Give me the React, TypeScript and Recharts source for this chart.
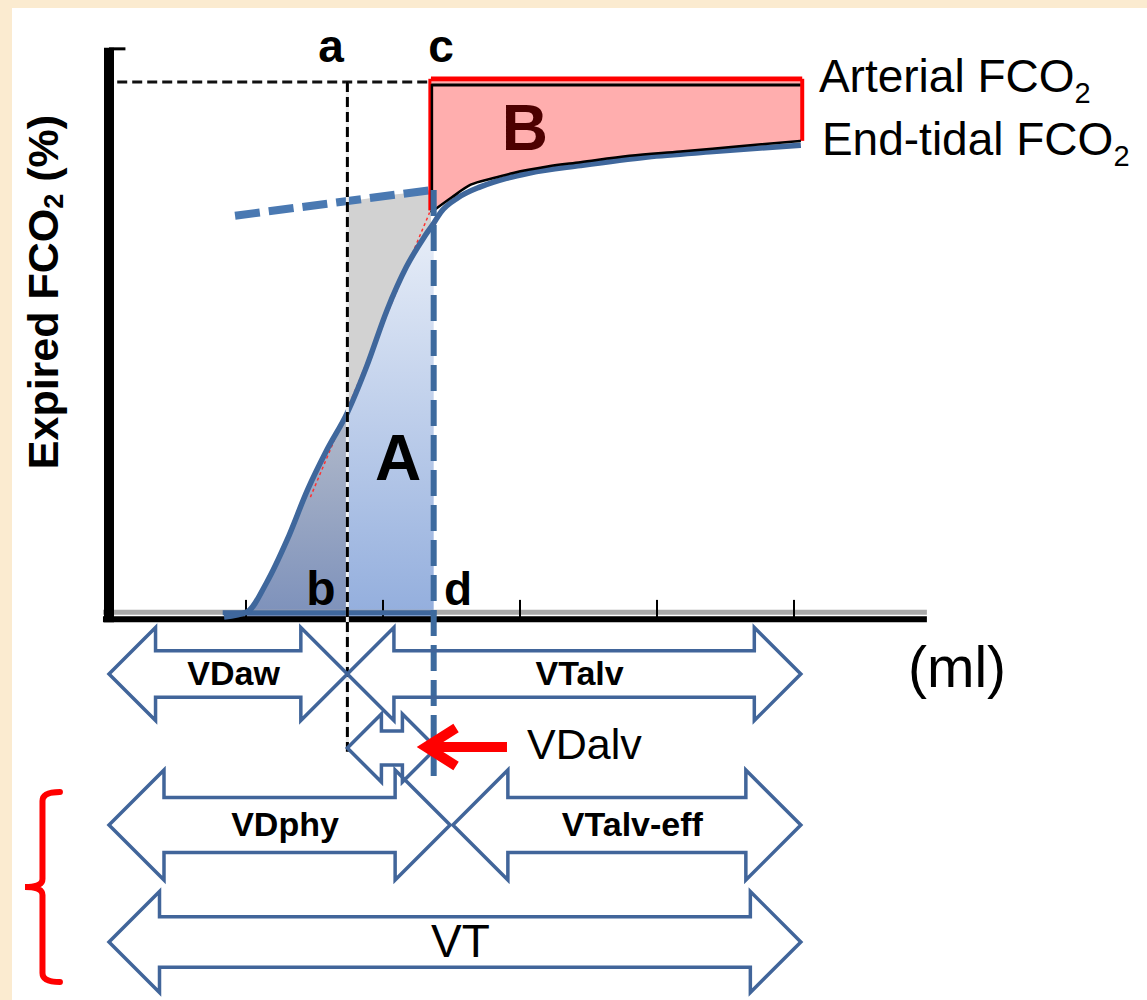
import React from "react";
import {
  Area,
  ComposedChart,
  Line,
  ReferenceArea,
  ReferenceDot,
  ReferenceLine,
  XAxis,
  YAxis,
} from "recharts";

// Volumetric capnogram: expired volume (ml) vs expired FCO2 (%)
const curveMl = [84, 101, 115, 130, 145, 159, 174, 188, 203, 217, 230, 237, 242, 255, 271, 290, 307, 344, 393, 441, 505];
const curveCo2 = [0, 0.05, 0.32, 0.72, 1.19, 1.56, 1.91, 2.34, 2.87, 3.27, 3.55, 3.68, 3.78, 3.92, 4.02, 4.1, 4.15, 4.22, 4.3, 4.35, 4.41];

// upper (black) phase III trace = lower edge of area B
const phase3Ml = [235, 250, 264, 280, 295, 320, 344, 380, 417, 460, 505];
const phase3Co2 = [3.78, 3.92, 4.04, 4.1, 4.15, 4.21, 4.25, 4.31, 4.35, 4.4, 4.45];

// grey triangle between the curve and the back-extrapolated phase III line
const greyMl = [174, 188, 203, 217, 230, 235];
const greyLow = [1.91, 2.34, 2.87, 3.27, 3.55, 3.64];
const greyHigh = [3.89, 3.91, 3.94, 3.96, 3.98, 3.99];

// back-extrapolated phase III (dashed)
const extrapMl = [92, 235];
const extrapCo2 = [3.75, 3.99];

const arterialCo2 = 5.0;
const endTidalCo2 = 4.45;
const volA = 174;
const volC = 235;
const volD = 237;
const volT = 505;
const axisTop = 5.32;
const xTicks = [100, 200, 300, 400, 500];

const arrowLabels = ["VDaw", "VTalv", "VDalv", "VDphy", "VTalv-eff", "VT"];
const arrowFrom = [0, 174, 174, 0, 251, 0];
const arrowTo = [174, 505, 239, 249, 505, 505];

// layout of the arrow lanes below the x axis (chart y units)
const arrowLane = [0, 0, 1, 2, 2, 3];
const laneCenter = [-0.533, -1.224, -1.944, -3.037];
const laneHalf = [0.435, 0.318, 0.514, 0.472];
const arrowFont = [34, 34, 0, 34, 34, 46];
const arrowBold = [true, true, false, true, true, false];

const FONT = "'Liberation Sans', Arial, sans-serif";
const BLUE = "#3F679C";
const ARROW = "#41659A";

const curve = curveMl.map((x, i) => ({ x, y: curveCo2[i] }));
const dead = curve.filter((p) => p.x <= volA);
const alveolar = curve.filter((p) => p.x >= volA && p.x <= volD);
const grey = greyMl.map((x, i) => ({ x, r: [greyLow[i], greyHigh[i]] }));
const areaB = phase3Ml.map((x, i) => ({ x, r: [phase3Co2[i], arterialCo2] }));
const phase3 = phase3Ml.map((x, i) => ({ x, y: phase3Co2[i] }));

function blockArrow(p: any) {
  const { x, y, width: w, height: h } = p;
  const hh = h / 2;
  const cy = y + hh;
  const hs = hh * 0.5;
  const L = Math.min(hh, w / 2);
  const pts = [
    [x, cy], [x + L, y], [x + L, cy - hs], [x + w - L, cy - hs], [x + w - L, y],
    [x + w, cy], [x + w - L, y + h], [x + w - L, cy + hs], [x + L, cy + hs], [x + L, y + h],
  ];
  return (
    <polygon
      points={pts.map((q) => q.join(",")).join(" ")}
      fill="none"
      stroke={ARROW}
      strokeWidth={3.5}
    />
  );
}

// vertical dashed marker drawn inside a thin reference area
function vDash(color: string, width: number, dash: string, under?: string) {
  return (p: any) => {
    const cx = p.x + p.width / 2;
    return (
      <g>
        {under ? <line x1={cx} y1={p.y} x2={cx} y2={p.y + p.height} stroke={under} strokeWidth={width} /> : null}
        <line x1={cx} y1={p.y} x2={cx} y2={p.y + p.height} stroke={color} strokeWidth={width} strokeDasharray={dash} />
      </g>
    );
  };
}

function redArrow(p: any) {
  const { x, y, width: w, height: h } = p;
  const cy = y + h / 2;
  return (
    <g stroke="#ff0000" strokeWidth={10} fill="none">
      <line x1={x + w} y1={cy} x2={x + 6} y2={cy} />
      <polyline points={`${x + 34},${y} ${x + 4},${cy} ${x + 34},${y + h}`} strokeLinejoin="miter" />
    </g>
  );
}

function bracket(p: any) {
  const { x, y, width: w, height: h } = p;
  const sx = x + w * 0.5;
  const my = y + h / 2;
  const d = `M${x + w},${y} Q${sx},${y} ${sx},${y + 9} L${sx},${my - 8} Q${sx},${my} ${x},${my} Q${sx},${my} ${sx},${my + 8} L${sx},${y + h - 9} Q${sx},${y + h} ${x + w},${y + h}`;
  return <path d={d} stroke="#ff0000" strokeWidth={6} fill="none" strokeLinecap="round" />;
}

function txt(label: React.ReactNode, size: number, opts: any = {}) {
  return (p: any) => (
    <text
      x={p.cx}
      y={p.cy}
      fontFamily={FONT}
      fontSize={size}
      fontWeight={opts.bold ? 700 : 400}
      fill={opts.fill ?? "#000"}
      textAnchor={opts.anchor ?? "middle"}
      dy={opts.dy ?? 0}
    >
      {label}
    </text>
  );
}

function yLabel(p: any) {
  return (
    <text
      x={p.cx}
      y={p.cy}
      transform={`rotate(-90 ${p.cx} ${p.cy})`}
      fontFamily={FONT}
      fontSize={43}
      fontWeight={700}
      textAnchor="middle"
    >
      Expired FCO<tspan fontSize={27} dy={5}>2</tspan>
      <tspan dy={-5}> (%)</tspan>
    </text>
  );
}

export default function App() {
  return (
    <div
      style={{
        position: "absolute",
        left: 0,
        top: 0,
        width: 1147,
        height: 1000,
        background: "#FBEBD0",
        overflow: "hidden",
      }}
    >
      <div style={{ position: "absolute", left: 12, top: 8, right: 0, bottom: 0, background: "#ffffff" }} />
      <div style={{ position: "absolute", left: 0, top: 0 }}>
        <ComposedChart width={1147} height={1000} margin={{ top: 0, right: 0, bottom: 0, left: 0 }}>
          <defs>
            <linearGradient id="gradA" x1="0" y1="0" x2="0" y2="1">
              <stop offset="0" stopColor="#E8EEF8" />
              <stop offset="1" stopColor="#93AEDD" />
            </linearGradient>
            <linearGradient id="gradDead" x1="0" y1="0" x2="0" y2="1">
              <stop offset="0" stopColor="#B2BACA" />
              <stop offset="1" stopColor="#7D91BB" />
            </linearGradient>
          </defs>
          <XAxis dataKey="x" type="number" domain={[-79.56, 757.66]} allowDataOverflow hide />
          <YAxis type="number" domain={[-3.5794, 5.7664]} allowDataOverflow hide />

          {/* fills */}
          <Area data={dead} dataKey="y" type="monotone" baseValue={0} stroke="none" fill="url(#gradDead)" fillOpacity={1} dot={false} activeDot={false} isAnimationActive={false} zIndex={10} />
          <Area data={alveolar} dataKey="y" type="monotone" baseValue={0} stroke="none" fill="url(#gradA)" fillOpacity={1} dot={false} activeDot={false} isAnimationActive={false} zIndex={10} />
          <Area data={grey} dataKey="r" type="monotone" stroke="none" fill="#D2D2D2" fillOpacity={1} dot={false} activeDot={false} isAnimationActive={false} zIndex={10} />
          <Area data={areaB} dataKey="r" type="monotone" stroke="none" fill="#FF6B6B" fillOpacity={0.55} dot={false} activeDot={false} isAnimationActive={false} zIndex={10} />

          {/* axes */}
          <ReferenceLine segment={[{ x: -4.4, y: 0.045 }, { x: 597, y: 0.045 }]} stroke="#A9A9A9" strokeWidth={5} zIndex={300} />
          <ReferenceLine segment={[{ x: -4.4, y: -0.02 }, { x: 597, y: -0.02 }]} stroke="#000" strokeWidth={6} zIndex={300} />
          <ReferenceLine segment={[{ x: 0, y: -0.05 }, { x: 0, y: axisTop }]} stroke="#000" strokeWidth={10} zIndex={300} />
          <ReferenceLine segment={[{ x: 0, y: axisTop - 0.01 }, { x: 12, y: axisTop - 0.01 }]} stroke="#000" strokeWidth={3} zIndex={300} />
          {xTicks.map((t) => (
            <ReferenceLine key={t} segment={[{ x: t, y: 0 }, { x: t, y: 0.16 }]} stroke="#000" strokeWidth={2} zIndex={300} />
          ))}

          {/* guide lines */}
          <ReferenceLine segment={[{ x: 6, y: arterialCo2 }, { x: volC, y: arterialCo2 }]} stroke="#111" strokeWidth={3} strokeDasharray="10 5" zIndex={300} />
          <ReferenceLine segment={[{ x: extrapMl[0], y: extrapCo2[0] }, { x: extrapMl[1], y: extrapCo2[1] }]} stroke="#4A79B2" strokeWidth={8} strokeDasharray="25 9" zIndex={300} />
          <ReferenceLine segment={[{ x: volT, y: 4.97 }, { x: volT, y: -3.58 }]} stroke="#5E88C2" strokeWidth={3} strokeDasharray="25 13" zIndex={300} />
          <ReferenceLine segment={[{ x: 83, y: 0.04 }, { x: 239, y: 0.04 }]} stroke={BLUE} strokeWidth={5} zIndex={300} />
          <ReferenceLine segment={[{ x: 147, y: 1.12 }, { x: 234, y: 3.78 }]} stroke="#ff3030" strokeWidth={1.5} strokeDasharray="3 3" zIndex={300} />

          {/* area B outline */}
          <ReferenceLine segment={[{ x: volC, y: 5.028 }, { x: volT + 1, y: 5.028 }]} stroke="#ff0000" strokeWidth={5} zIndex={300} />
          <ReferenceLine segment={[{ x: volC, y: 4.972 }, { x: volT, y: 4.972 }]} stroke="#000" strokeWidth={3} zIndex={300} />
          <ReferenceLine segment={[{ x: volC - 0.8, y: 3.8 }, { x: volC - 0.8, y: 5.03 }]} stroke="#ff0000" strokeWidth={3} zIndex={300} />
          <ReferenceLine segment={[{ x: volC + 0.7, y: 3.78 }, { x: volC + 0.7, y: 4.98 }]} stroke="#000" strokeWidth={2.5} zIndex={300} />
          <ReferenceLine segment={[{ x: volT + 1, y: endTidalCo2 }, { x: volT + 1, y: 5.03 }]} stroke="#ff0000" strokeWidth={4} zIndex={300} />

          {/* curve */}
          <Line data={curve} dataKey="y" type="monotone" stroke={BLUE} strokeWidth={5.5} dot={false} activeDot={false} isAnimationActive={false} zIndex={400} />
          <Line data={phase3} dataKey="y" type="monotone" stroke="#000" strokeWidth={2.5} dot={false} activeDot={false} isAnimationActive={false} zIndex={410} />

          {/* a and d markers */}
          <ReferenceArea x1={volA - 0.3} x2={volA + 0.3} y1={-1.26} y2={arterialCo2} shape={vDash("#000", 3, "10 5", "#EDEDED")} zIndex={450} />
          <ReferenceArea x1={volD - 0.3} x2={volD + 0.3} y1={-1.52} y2={3.99} shape={vDash("#3D6A9E", 6, "26 9")} zIndex={450} />

          {/* volume arrows */}
          {arrowLabels.map((name, i) => (
            <ReferenceArea
              key={name}
              x1={arrowFrom[i]}
              x2={arrowTo[i]}
              y1={laneCenter[arrowLane[i]] - laneHalf[arrowLane[i]]}
              y2={laneCenter[arrowLane[i]] + laneHalf[arrowLane[i]]}
              shape={blockArrow}
              zIndex={500}
            />
          ))}
          {arrowLabels.map((name, i) =>
            arrowFont[i] > 0 ? (
              <ReferenceDot
                key={"t" + name}
                x={(arrowFrom[i] + arrowTo[i]) / 2 + 4}
                y={laneCenter[arrowLane[i]]}
                r={0}
                shape={txt(name, arrowFont[i], { bold: arrowBold[i], dy: arrowFont[i] * 0.33 })}
                zIndex={600}
              />
            ) : null
          )}
          <ReferenceArea x1={228.5} x2={290.5} y1={-1.393} y2={-1.037} shape={redArrow} zIndex={600} />
          <ReferenceArea x1={-61.3} x2={-35.8} y1={-3.411} y2={-1.636} shape={bracket} zIndex={600} />

          {/* text */}
          <ReferenceDot x={-37.2} y={3.037} r={0} shape={yLabel} zIndex={600} />
          <ReferenceDot x={162} y={5.187} r={0} shape={txt("a", 46, { bold: true })} zIndex={600} />
          <ReferenceDot x={242.3} y={5.187} r={0} shape={txt("c", 46, { bold: true })} zIndex={600} />
          <ReferenceDot x={303.6} y={4.364} r={0} shape={txt("B", 64, { bold: true, fill: "#4D0000" })} zIndex={600} />
          <ReferenceDot x={211} y={1.28} r={0} shape={txt("A", 64, { bold: true })} zIndex={600} />
          <ReferenceDot x={154.7} y={0.112} r={0} shape={txt("b", 48, { bold: true })} zIndex={600} />
          <ReferenceDot x={254.7} y={0.112} r={0} shape={txt("d", 46, { bold: true })} zIndex={600} />
          <ReferenceDot
            x={518.2}
            y={4.907}
            r={0}
            shape={txt(<>Arterial FCO<tspan fontSize={29} dy={11}>2</tspan></>, 46, { anchor: "start" })}
            zIndex={600}
          />
          <ReferenceDot
            x={520.4}
            y={4.318}
            r={0}
            shape={txt(<>End-tidal FCO<tspan fontSize={29} dy={11}>2</tspan></>, 46, { anchor: "start" })}
            zIndex={600}
          />
          <ReferenceDot x={583.2} y={-0.654} r={0} shape={txt("(ml)", 57, { anchor: "start" })} zIndex={600} />
          <ReferenceDot x={305.1} y={-1.327} r={0} shape={txt("VDalv", 43, { anchor: "start" })} zIndex={600} />
        </ComposedChart>
      </div>
    </div>
  );
}
